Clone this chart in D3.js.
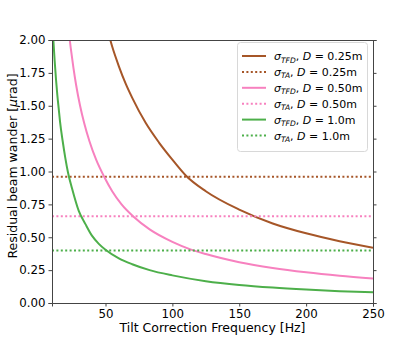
<!DOCTYPE html>
<html>
<head>
<meta charset="utf-8">
<script src="https://cdn.jsdelivr.net/npm/d3@7"></script>
<style>
  body { margin: 0; background: #fff; }
  svg { font-family: "DejaVu Sans", sans-serif; }
</style>
</head>
<body>
<svg id="chart" width="415" height="341"></svg>
<script>
// values
const freqBrown = [50, 55, 60, 65, 70, 80, 90, 100, 110, 125, 150, 175, 200, 225, 250];
const tfdBrown  = [2.14, 1.95, 1.80, 1.67, 1.56, 1.37, 1.22, 1.09, 0.97, 0.85, 0.71, 0.605, 0.53, 0.47, 0.42];
const freqPink  = [22, 24, 26, 28, 31, 34, 38, 43, 49, 55, 62, 71, 83, 100, 113, 125, 150, 175, 200, 225, 250];
const tfdPink   = [2.11, 1.94, 1.79, 1.66, 1.50, 1.37, 1.23, 1.09, 0.96, 0.85, 0.75, 0.656, 0.56, 0.465, 0.41, 0.372, 0.31, 0.266, 0.233, 0.207, 0.186];
const freqGreen = [10, 11, 12, 13, 14, 15, 16, 18, 20, 22, 25, 30, 35, 40, 45, 50, 60, 70, 83, 100, 125, 150, 175, 200, 225, 250];
const tfdGreen  = [2.2, 2.0, 1.84, 1.70, 1.58, 1.48, 1.38, 1.23, 1.10, 0.99, 0.87, 0.70, 0.60, 0.51, 0.45, 0.405, 0.34, 0.295, 0.25, 0.21, 0.166, 0.137, 0.117, 0.102, 0.09, 0.081];
const taValues  = [0.96, 0.66, 0.40];
const diameters = ['0.25', '0.50', '1.0'];
const colors    = ['#a65628', '#f781bf', '#4daf4a'];
const xTicks = [50, 100, 150, 200, 250];
const yTicks = [0, 0.25, 0.5, 0.75, 1.0, 1.25, 1.5, 1.75, 2.0];

const pLeft = 52, pRight = 373, pTop = 40, pBottom = 303;
const svg = d3.select('#chart');

const x = d3.scaleLinear().domain([10, 250]).range([pLeft, pRight]);
const y = d3.scaleLinear().domain([0, 2]).range([pBottom, pTop]);

svg.append('defs').append('clipPath').attr('id', 'clip')
  .append('rect').attr('x', pLeft).attr('y', pTop)
  .attr('width', pRight - pLeft).attr('height', pBottom - pTop);

const plot = svg.append('g').attr('clip-path', 'url(#clip)');

const line = d3.line()
  .x(d => x(d[0]))
  .y(d => y(d[1]))
  .curve(d3.curveMonotoneX);

const curves = [
  [freqBrown, tfdBrown],
  [freqPink, tfdPink],
  [freqGreen, tfdGreen]
];

curves.forEach(([fs, vs], i) => {
  plot.append('path')
    .datum(fs.map((f, j) => [f, vs[j]]))
    .attr('d', line)
    .attr('fill', 'none')
    .attr('stroke', colors[i])
    .attr('stroke-width', 2);
  plot.append('line')
    .attr('x1', x(10)).attr('x2', x(250))
    .attr('y1', y(taValues[i])).attr('y2', y(taValues[i]))
    .attr('stroke', colors[i])
    .attr('stroke-width', 2)
    .attr('stroke-dasharray', '2,2.4');
});

// axes
const fmt = d3.format('.2f');
const xAxis = svg.append('g')
  .attr('transform', `translate(0,${pBottom})`)
  .call(d3.axisBottom(x).tickValues(xTicks).tickSize(3.5).tickPadding(3));
const yAxis = svg.append('g')
  .attr('transform', `translate(${pLeft},0)`)
  .call(d3.axisLeft(y).tickValues(yTicks).tickFormat(fmt).tickSize(3.5).tickPadding(3));
const yRight = svg.append('g')
  .attr('transform', `translate(${pRight},0)`)
  .call(d3.axisRight(y).tickValues(yTicks).tickFormat('').tickSize(3.5));

[xAxis, yAxis, yRight].forEach(g => {
  g.selectAll('path').attr('stroke', '#444');
  g.selectAll('line').attr('stroke', '#444');
  g.selectAll('text').attr('fill', '#000')
    .style('font-family', '"DejaVu Sans", sans-serif')
    .style('font-size', '11.8px');
});

svg.append('line')
  .attr('x1', pLeft).attr('x2', pRight).attr('y1', pTop + 0.5).attr('y2', pTop + 0.5)
  .attr('stroke', '#444');

svg.append('text')
  .attr('x', (pLeft + pRight) / 2).attr('y', 332)
  .attr('text-anchor', 'middle')
  .style('font-size', '12.5px')
  .text('Tilt Correction Frequency [Hz]');

const yl = svg.append('text')
  .attr('transform', 'translate(17,166) rotate(-90)')
  .attr('text-anchor', 'middle')
  .style('font-size', '12.5px');
yl.append('tspan').text('Residual beam wander [');
yl.append('tspan').style('font-style', 'italic').text('μ');
yl.append('tspan').text('rad]');

// legend
const lg = svg.append('g');
lg.append('rect')
  .attr('x', 237.5).attr('y', 42.5).attr('width', 130).attr('height', 109)
  .attr('rx', 3)
  .attr('fill', '#fff').attr('fill-opacity', 0.8)
  .attr('stroke', '#d8d8d8');

const entries = [];
diameters.forEach((dm, i) => {
  entries.push({ sub: 'TFD', d: dm, color: colors[i], dash: null });
  entries.push({ sub: 'TA', d: dm, color: colors[i], dash: '2,2.4' });
});

entries.forEach((e, i) => {
  const yy = 56 + i * 15.9;
  lg.append('line')
    .attr('x1', 242).attr('x2', 266).attr('y1', yy).attr('y2', yy)
    .attr('stroke', e.color).attr('stroke-width', 2)
    .attr('stroke-dasharray', e.dash);
  const t = lg.append('text')
    .attr('x', 274).attr('y', yy + 4)
    .style('font-size', '11px');
  t.append('tspan').style('font-style', 'italic').text('σ');
  t.append('tspan').style('font-style', 'italic').style('font-size', '7.5px')
    .attr('dy', 2.5).text(e.sub);
  t.append('tspan').attr('dy', -2.5).text(', ');
  t.append('tspan').style('font-style', 'italic').text('D');
  t.append('tspan').text(' = ' + e.d + 'm');
});
</script>
</body>
</html>
